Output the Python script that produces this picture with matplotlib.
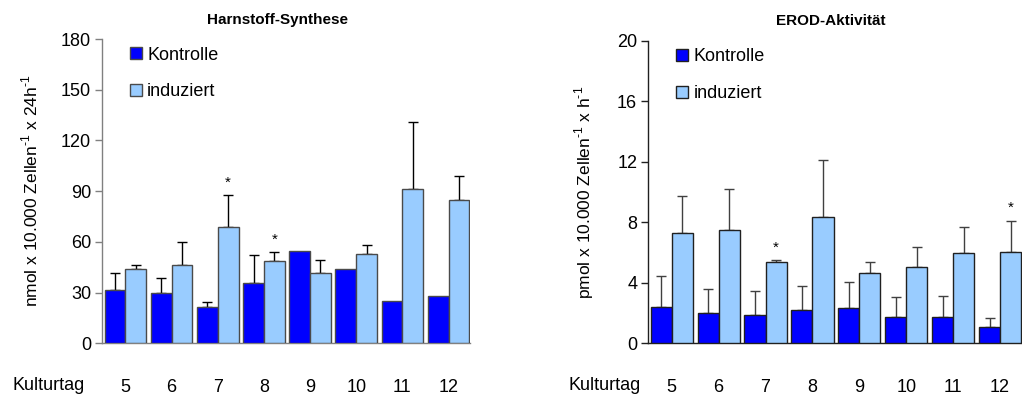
import matplotlib
matplotlib.use("Agg")
import matplotlib.pyplot as plt
import numpy as np

plt.rcParams["font.family"] = ["Liberation Sans", "DejaVu Sans"]
plt.rcParams["mathtext.fontset"] = "custom"
plt.rcParams["mathtext.rm"] = "Liberation Sans"

DAYS = [5, 6, 7, 8, 9, 10, 11, 12]

# Harnstoff-Synthese (nmol x 10.000 Zellen^-1 x 24h^-1)
harn_ctrl = [31.5, 30.0, 21.5, 35.5, 54.8, 44.0, 24.8, 28.2]
harn_ctrl_err = [10.3, 8.5, 3.1, 16.5, 0, 0, 0, 0]
harn_ind = [44.0, 46.3, 69.0, 48.7, 41.8, 53.0, 91.0, 85.0]
harn_ind_err = [2.3, 13.7, 18.7, 5.1, 7.5, 5.0, 40.0, 13.7]
harn_sig = [7, 8]

# EROD-Aktivitaet (pmol x 10.000 Zellen^-1 x h^-1)
erod_ctrl = [2.38, 2.00, 1.87, 2.18, 2.31, 1.76, 1.76, 1.06]
erod_ctrl_err = [2.05, 1.59, 1.59, 1.61, 1.76, 1.28, 1.34, 0.64]
erod_ind = [7.31, 7.47, 5.35, 8.33, 4.67, 5.04, 5.97, 6.06]
erod_ind_err = [2.43, 2.75, 0.13, 3.81, 0.70, 1.35, 1.74, 2.05]
erod_sig = [7, 12]

C_CTRL = "#0000FF"
C_IND = "#99CCFF"
W = 0.45
FS = 13


def draw(ax, ctrl, ctrl_err, ind, ind_err, sig, ymax, step, title, title_x, ylabel, axcol, edgecol, errcol):
    x = np.arange(len(DAYS))
    ctrl = np.array(ctrl)
    ind = np.array(ind)
    ax.bar(x - W / 2, ctrl, W, color=C_CTRL, edgecolor=edgecol, lw=1.0, label="Kontrolle", zorder=3)
    ax.bar(x + W / 2, ind, W, color=C_IND, edgecolor=edgecol, lw=1.0, label="induziert", zorder=3)
    for xs, vals, errs in [(x - W / 2, ctrl, ctrl_err), (x + W / 2, ind, ind_err)]:
        errs = np.array(errs)
        m = errs > 0
        ax.errorbar(xs[m], vals[m], yerr=[np.zeros(m.sum()), errs[m]], fmt="none",
                    ecolor=errcol, elinewidth=1.0, capsize=3.5, capthick=1.0, zorder=2)
    # significance marks above the error bars
    for d in sig:
        i = DAYS.index(d)
        ax.annotate("*", (x[i] + W / 2, ind[i] + ind_err[i]), xytext=(0, 9),
                    textcoords="offset points", ha="center", va="center", fontsize=11)
    ax.set_xlim(-0.5, 7.46)
    ax.set_ylim(0, ymax)
    ax.set_yticks(np.arange(0, ymax + step / 2, step))
    ax.set_xticks(x)
    ax.set_xticklabels([str(d) for d in DAYS], fontsize=FS)
    ax.tick_params(axis="x", length=0, pad=26)
    ax.tick_params(axis="y", labelsize=FS, length=5, width=1, color=axcol, pad=3)
    for s in ["top", "right"]:
        ax.spines[s].set_visible(False)
    for s in ["left", "bottom"]:
        ax.spines[s].set_color(axcol)
        ax.spines[s].set_linewidth(1.0)
    ax.set_title(title, fontsize=11, fontweight="bold", pad=11, x=title_x)
    ax.set_ylabel(ylabel, fontsize=12.5, labelpad=15)
    ax.legend(loc="upper left", bbox_to_anchor=(0.075, 0.975), frameon=False, fontsize=FS,
              handlelength=0.65, handleheight=0.65, handletextpad=0.3, labelspacing=1.1,
              borderpad=0, borderaxespad=0)


fig = plt.figure(figsize=(10.22, 3.96), dpi=100)
ax1 = fig.add_axes([0.1001, 0.1331, 0.3596, 0.7684])
ax2 = fig.add_axes([0.6343, 0.1331, 0.3654, 0.7641])

draw(ax1, harn_ctrl, harn_ctrl_err, harn_ind, harn_ind_err, harn_sig, 180, 30,
     "Harnstoff-Synthese", 0.478, r"nmol x 10.000 Zellen$^{\text{-1}}$ x 24h$^{\text{-1}}$",
     "#808080", "#4a4a4a", "black")
draw(ax2, erod_ctrl, erod_ctrl_err, erod_ind, erod_ind_err, erod_sig, 20, 4,
     "EROD-Aktivität", 0.49, r"pmol x 10.000 Zellen$^{\text{-1}}$ x h$^{\text{-1}}$",
     "#202020", "#202020", "#404040")

fig.text(12.7 / 1022, 1 - 386 / 396, "Kulturtag", fontsize=FS, ha="left", va="center")
fig.text(568 / 1022, 1 - 386 / 396, "Kulturtag", fontsize=FS, ha="left", va="center")

fig.savefig("out.png", dpi=100)
